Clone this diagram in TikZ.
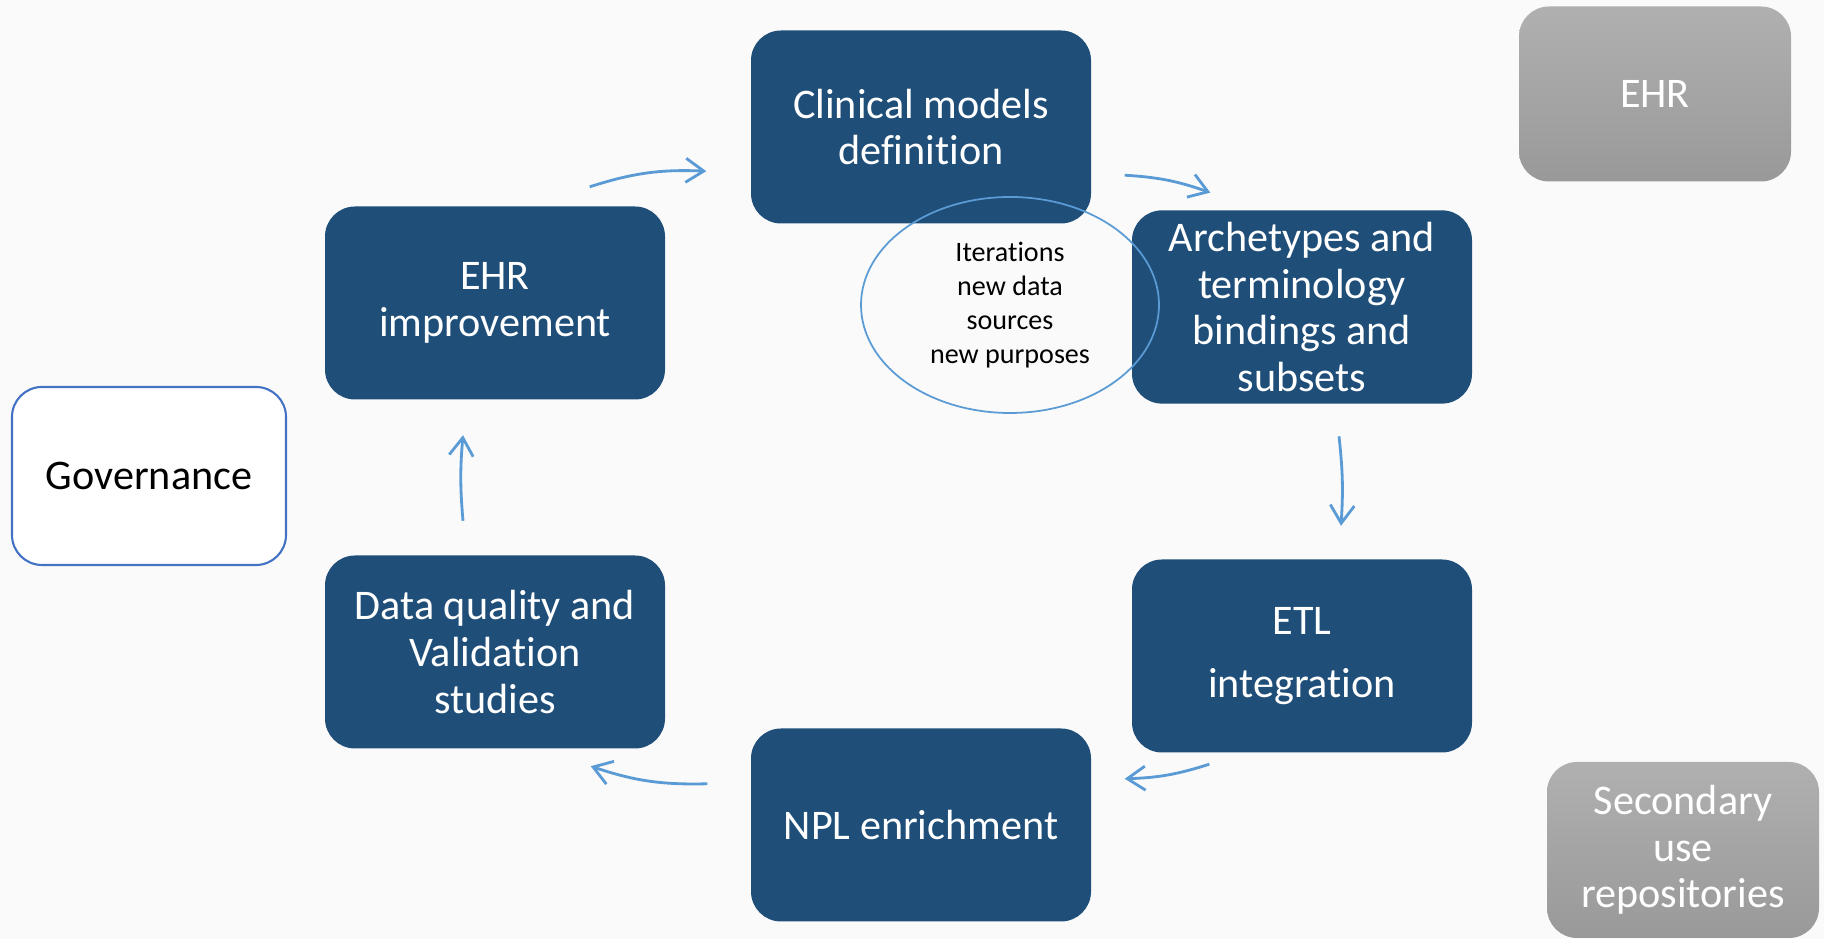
\documentclass[tikz,border=0pt]{standalone}
\usepackage{fontspec}
\setmainfont{Carlito}[Ligatures=NoCommon]
\usetikzlibrary{arrows.meta,shapes.geometric}
\tikzset{>=stealth}
\definecolor{stepblue}{RGB}{31,78,121}
\definecolor{cycblue}{RGB}{91,155,213}
\definecolor{govblue}{RGB}{68,114,196}
\tikzset{
  stepbox/.style={rectangle,rounded corners=0.3cm,fill=stepblue,text=white,
    minimum width=3.4cm,minimum height=1.93cm,align=center,
    font=\fontsize{12}{13.3}\selectfont},
  graybox/.style={rectangle,rounded corners=0.3cm,top color=gray!62,bottom color=gray!80,
    text=white,minimum width=2.72cm,minimum height=1.75cm,align=center,
    font=\fontsize{12}{13.3}\selectfont},
  cyc/.style={draw=cycblue,line width=0.8pt,-{Straight Barb[length=1.8mm,width=2.4mm]},bend left=#1},
  cyc/.default=10
}

\begin{document}
\begin{tikzpicture}
\fill[black!2] (0,0) rectangle (18.24,9.39);
\useasboundingbox (0,0) rectangle (18.24,9.39);
% the cycle
\node[stepbox] (clin) at (9.21,8.12) {Clinical models\\definition};
\node[stepbox] (arch) at (13.02,6.32) {Archetypes and\\terminology\\bindings and\\subsets};
\node[stepbox] (etl) at (13.02,2.83) {ETL\\[0.17cm]integration};
\node[stepbox] (npl) at (9.21,1.14) {NPL enrichment};
\node[stepbox] (dq) at (4.95,2.87) {Data quality and\\Validation\\studies};
\node[stepbox] (ehri) at (4.95,6.36) {EHR\\improvement};
% side boxes
\node[rectangle,rounded corners=0.3cm,draw=govblue,line width=0.6pt,fill=white,
  minimum width=2.74cm,minimum height=1.78cm,font=\fontsize{12}{13.3}\selectfont]
  (gov) at (1.49,4.63) {Governance};
\node[graybox] (ehr) at (16.55,8.45) {EHR};
\node[graybox,minimum height=1.76cm] (sec) at (16.83,0.89) {Secondary\\use\\repositories};
% iterations
\node[ellipse,draw=cycblue,line width=0.5pt,minimum width=2.98cm,minimum height=2.16cm,
  inner sep=0pt,align=center,font=\fontsize{8}{9.7}\selectfont]
  (iter) at (10.10,6.34) {Iterations\\new data\\sources\\new purposes};
% arrows
\draw[cyc] ([xshift=-0.76cm,yshift=0.19cm]ehri.north east) to ([xshift=-0.44cm,yshift=0.53cm]clin.south west);
\draw[cyc=8] ([xshift=0.33cm,yshift=0.49cm]clin.south east) to ([xshift=0.79cm,yshift=0.17cm]arch.north west);
\draw[cyc=5] ([xshift=0.37cm,yshift=-0.32cm]arch.south) to ([xshift=0.39cm,yshift=0.33cm]etl.north);
\draw[cyc=8] ([xshift=0.78cm,yshift=-0.11cm]etl.south west) to ([xshift=0.33cm,yshift=-0.51cm]npl.north east);
\draw[cyc] ([xshift=-0.43cm,yshift=-0.56cm]npl.north west) to ([xshift=-0.75cm,yshift=-0.17cm]dq.south east);
\draw[cyc=5] ([xshift=-0.32cm,yshift=0.34cm]dq.north) to ([xshift=-0.32cm,yshift=-0.35cm]ehri.south);
\end{tikzpicture}
\end{document}
